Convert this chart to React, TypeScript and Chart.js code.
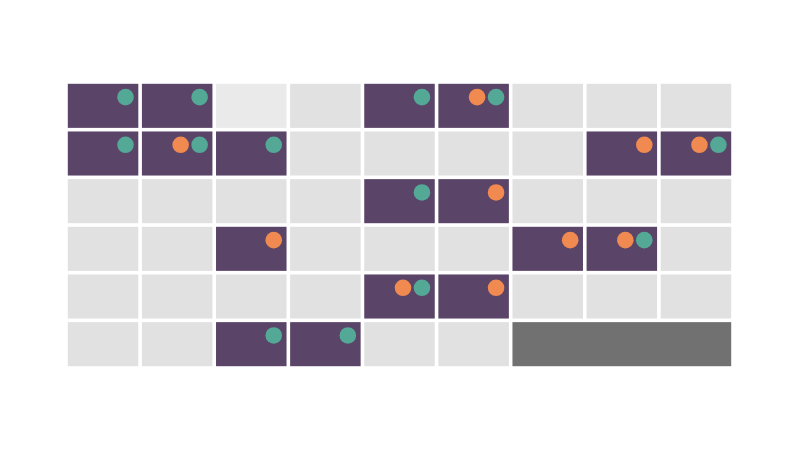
import React, { useEffect, useRef } from "react";
import { Chart, registerables } from "chart.js";

Chart.register(...registerables);

// Grid size
const COLS = 9;
const ROWS = 6;

// Cell states per row: P = active, G = inactive, L = muted, D = unavailable (merged)
const row0 = ["P", "P", "L", "G", "P", "P", "G", "G", "G"];
const row1 = ["P", "P", "P", "G", "G", "G", "G", "P", "P"];
const row2 = ["G", "G", "G", "G", "P", "P", "G", "G", "G"];
const row3 = ["G", "G", "P", "G", "G", "G", "P", "P", "G"];
const row4 = ["G", "G", "G", "G", "P", "P", "G", "G", "G"];
const row5 = ["G", "G", "P", "P", "G", "G", "D", "D", "D"];
const cellRows = [row0, row1, row2, row3, row4, row5];

// Markers as [column, row]
const tealCells = [
  [0, 0], [1, 0], [4, 0], [5, 0],
  [0, 1], [1, 1], [2, 1], [8, 1],
  [4, 2],
  [7, 3],
  [4, 4],
  [2, 5], [3, 5],
];
const orangeCells = [
  [5, 0],
  [1, 1], [7, 1], [8, 1],
  [5, 2],
  [2, 3], [6, 3], [7, 3],
  [4, 4], [5, 4],
];

const COLORS: Record<string, string> = {
  P: "#5a4468",
  G: "#e1e1e1",
  L: "#eaeaea",
  D: "#717171",
};
const TEAL = "#54a896";
const ORANGE = "#f08a50";

const hasTeal = (c: number, r: number) => tealCells.some(([x, y]) => x === c && y === r);

const tealPoints = tealCells.map(([c, r]) => ({ x: c + 0.803, y: r + 0.318 }));
const orangePoints = orangeCells.map(([c, r]) => ({
  x: c + (hasTeal(c, r) ? 0.547 : 0.803),
  y: r + 0.318,
}));

const cellPlugin = {
  id: "cells",
  beforeDatasetsDraw(chart: any) {
    const { ctx, scales } = chart;
    const xs = scales.x;
    const ys = scales.y;
    const gap = 3.6;
    ctx.save();
    cellRows.forEach((row, r) => {
      let c = 0;
      while (c < COLS) {
        const state = row[c];
        let end = c + 1;
        if (state === "D") {
          while (end < COLS && row[end] === "D") end++;
        }
        const x0 = xs.getPixelForValue(c) + gap / 2;
        const x1 = xs.getPixelForValue(end) - gap / 2;
        const y0 = ys.getPixelForValue(r) + gap / 2;
        const y1 = ys.getPixelForValue(r + 1) - gap / 2;
        ctx.fillStyle = COLORS[state];
        ctx.fillRect(x0, y0, x1 - x0, y1 - y0);
        c = end;
      }
    });
    ctx.restore();
  },
};

export default function App() {
  const canvasRef = useRef<HTMLCanvasElement | null>(null);

  useEffect(() => {
    if (!canvasRef.current) return;
    const chart = new Chart(canvasRef.current, {
      type: "scatter",
      data: {
        datasets: [
          {
            data: orangePoints,
            backgroundColor: ORANGE,
            borderWidth: 0,
            pointRadius: 8.3,
            pointHoverRadius: 8.3,
          },
          {
            data: tealPoints,
            backgroundColor: TEAL,
            borderWidth: 0,
            pointRadius: 8.3,
            pointHoverRadius: 8.3,
          },
        ],
      },
      options: {
        animation: false,
        responsive: false,
        maintainAspectRatio: false,
        layout: { padding: { left: 66, right: 67, top: 82, bottom: 82 } },
        plugins: { legend: { display: false }, tooltip: { enabled: false } },
        scales: {
          x: { type: "linear", min: 0, max: COLS, display: false },
          y: { type: "linear", min: 0, max: ROWS, reverse: true, display: false },
        },
      },
      plugins: [cellPlugin],
    });
    return () => chart.destroy();
  }, []);

  return (
    <div style={{ position: "fixed", left: 0, top: 0, width: 800, height: 450, background: "#ffffff" }}>
      <canvas ref={canvasRef} width={800} height={450} />
    </div>
  );
}
